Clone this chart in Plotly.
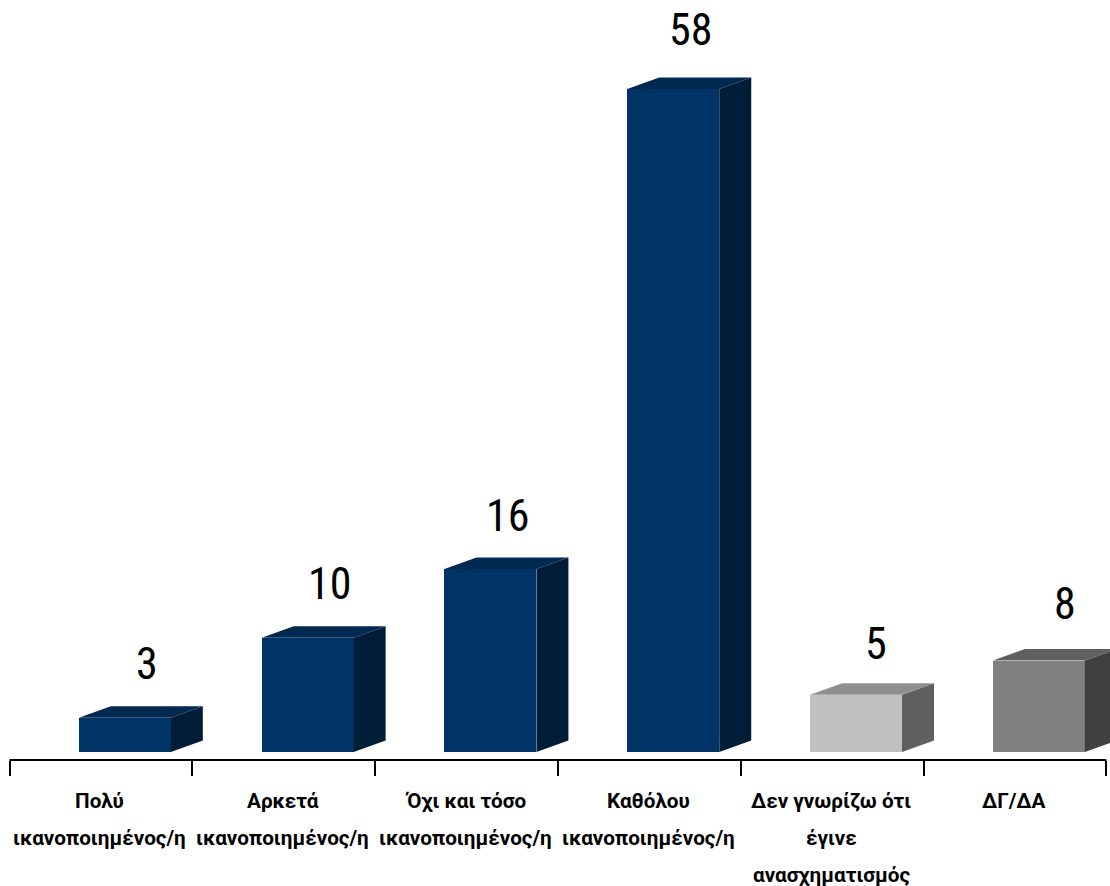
import plotly.graph_objects as go

categories = [
    ["Πολύ", "ικανοποιημένος/η"],
    ["Αρκετά", "ικανοποιημένος/η"],
    ["Όχι και τόσο", "ικανοποιημένος/η"],
    ["Καθόλου", "ικανοποιημένος/η"],
    ["Δεν γνωρίζω ότι", "έγινε", "ανασχηματισμός"],
    ["ΔΓ/ΔΑ"],
]
values = [3, 10, 16, 58, 5, 8]
front_colors = ["#003366", "#003366", "#003366", "#003366", "#C0C0C0", "#808080"]
side_colors = ["#001D38", "#001D38", "#001D38", "#001D38", "#5F5F5F", "#404040"]
top_colors = ["#002952", "#002952", "#002952", "#002952", "#8F8F8F", "#5F5F5F"]
label_nudge_x = [6, 6, 1, 1, 4, 10]
label_nudge_y = [0, 0, -1, 5, -3, 3]

W, H = 1110, 886
STEP = 182.8        # px per category
PX_UNIT = 11.43     # px per value unit
X0, Y0 = 9.5, 752   # px of category edge / value zero
xr = [-0.5 - X0 / STEP, (W - X0) / STEP - 0.5]
yr = [(Y0 - H) / PX_UNIT, Y0 / PX_UNIT]
OFF, BW = 0.131, 0.503
DX, DY = 32 / STEP, 11.5 / PX_UNIT
NUM_FONT = "Roboto Condensed, Roboto, sans-serif"
CAT_FONT = "Roboto, sans-serif"

fig = go.Figure()
n = len(values)
xs = list(range(n))
fig.add_trace(go.Bar(
    x=xs, y=values, width=BW, offset=-BW / 2 + OFF,
    marker=dict(color=front_colors, line=dict(width=0)), showlegend=False,
))
for i, v in enumerate(values):
    l, r = i + OFF - BW / 2, i + OFF + BW / 2
    fig.add_trace(go.Scatter(
        x=[r, r + DX, r + DX, r, r], y=[0, DY, v + DY, v, 0],
        mode="lines", line=dict(width=0), fill="toself",
        fillcolor=side_colors[i], showlegend=False, hoverinfo="skip"))
    fig.add_trace(go.Scatter(
        x=[l, l + DX, r + DX, r, l], y=[v, v + DY, v + DY, v, v],
        mode="lines", line=dict(width=0), fill="toself",
        fillcolor=top_colors[i], showlegend=False, hoverinfo="skip"))

annotations = []
for i, v in enumerate(values):
    annotations.append(dict(
        x=i + OFF + DX / 2, y=v, xref="x", yref="y", text=str(v), showarrow=False,
        xanchor="center", yanchor="middle",
        xshift=label_nudge_x[i], yshift=54 + label_nudge_y[i],
        font=dict(family=NUM_FONT, size=44, color="#000000")))
    for j, line in enumerate(categories[i]):
        annotations.append(dict(
            x=i, y=1 - (801 + 37 * j) / H, xref="x", yref="paper",
            text="<b>" + line + "</b>", showarrow=False,
            xanchor="center", yanchor="middle", xshift=-1,
            font=dict(family=CAT_FONT, size=20.7, color="#000000")))

fig.update_layout(
    width=W, height=H, margin=dict(l=0, r=0, t=0, b=0),
    paper_bgcolor="#FFFFFF", plot_bgcolor="#FFFFFF",
    annotations=annotations, showlegend=False, bargap=0,
    xaxis=dict(
        range=xr, anchor="free", position=1 - 760 / H, showgrid=False, zeroline=False,
        tickmode="array", tickvals=[i - 0.5 for i in range(n + 1)], ticktext=[""] * (n + 1),
        ticks="outside", ticklen=15, tickwidth=2, tickcolor="#000000",
        showline=False,
    ),
    yaxis=dict(range=yr, visible=False, showgrid=False, zeroline=False),
    shapes=[dict(type="line", xref="x", yref="paper", x0=-0.5, x1=n - 0.5,
                 y0=1 - 760 / H, y1=1 - 760 / H, line=dict(color="#000000", width=2))],
)
fig.write_html("out.html", config={"displayModeBar": False},
               post_script="document.body.style.margin='0';")
